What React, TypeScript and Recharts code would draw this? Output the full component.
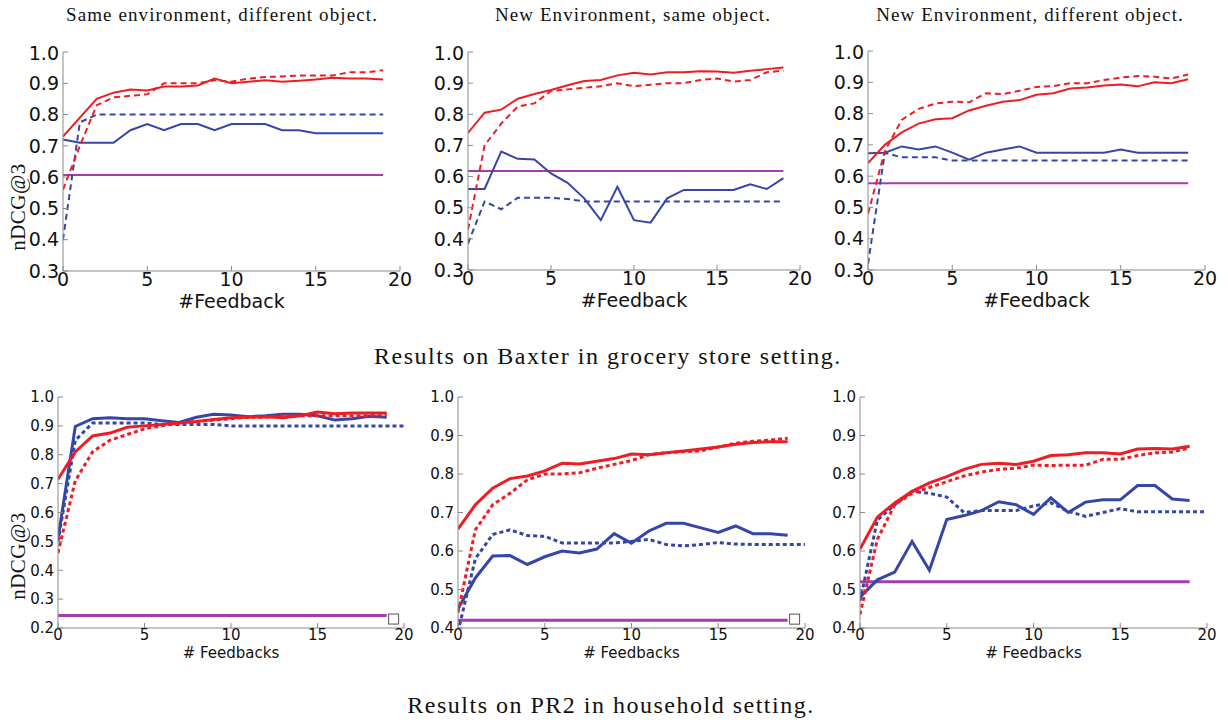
import React from 'react';
import { LineChart, Line, XAxis, YAxis, ReferenceLine, ReferenceDot } from 'recharts';

// x positions
const feedback = [0, 1, 2, 3, 4, 5, 6, 7, 8, 9, 10, 11, 12, 13, 14, 15, 16, 17, 18, 19];
const feedbackExt = [0, 1, 2, 3, 4, 5, 6, 7, 8, 9, 10, 11, 12, 13, 14, 15, 16, 17, 18, 19, 20];
const xTicks = [0, 5, 10, 15, 20];

// Baxter: same environment, different object
const b1RedSolid = [0.73, 0.79, 0.85, 0.87, 0.88, 0.877, 0.89, 0.89, 0.893, 0.915, 0.9, 0.905, 0.91, 0.905, 0.908, 0.912, 0.918, 0.915, 0.915, 0.912];
const b1RedDash = [0.56, 0.7, 0.83, 0.855, 0.86, 0.865, 0.9, 0.9, 0.9, 0.91, 0.905, 0.915, 0.92, 0.922, 0.925, 0.925, 0.925, 0.935, 0.935, 0.942];
const b1BlueSolid = [0.72, 0.71, 0.71, 0.71, 0.75, 0.77, 0.75, 0.77, 0.77, 0.75, 0.77, 0.77, 0.77, 0.75, 0.75, 0.74, 0.74, 0.74, 0.74, 0.74];
const b1BlueDash = [0.4, 0.775, 0.8, 0.8, 0.8, 0.8, 0.8, 0.8, 0.8, 0.8, 0.8, 0.8, 0.8, 0.8, 0.8, 0.8, 0.8, 0.8, 0.8, 0.8];
const b1Baseline = 0.607;

// Baxter: new environment, same object
const b2RedSolid = [0.74, 0.805, 0.815, 0.85, 0.865, 0.878, 0.893, 0.907, 0.91, 0.925, 0.933, 0.928, 0.935, 0.935, 0.938, 0.937, 0.933, 0.94, 0.945, 0.95];
const b2RedDash = [0.43, 0.7, 0.77, 0.825, 0.835, 0.875, 0.88, 0.885, 0.89, 0.9, 0.89, 0.895, 0.9, 0.9, 0.91, 0.915, 0.905, 0.91, 0.935, 0.94];
const b2BlueSolid = [0.56, 0.56, 0.68, 0.657, 0.655, 0.61, 0.58, 0.53, 0.46, 0.567, 0.46, 0.452, 0.53, 0.557, 0.557, 0.557, 0.557, 0.575, 0.56, 0.595];
const b2BlueDash = [0.385, 0.52, 0.495, 0.532, 0.532, 0.532, 0.528, 0.52, 0.52, 0.52, 0.52, 0.52, 0.52, 0.52, 0.52, 0.52, 0.52, 0.52, 0.52, 0.52];
const b2Baseline = 0.618;

// Baxter: new environment, different object
const b3RedSolid = [0.642, 0.7, 0.74, 0.768, 0.782, 0.785, 0.81, 0.825, 0.838, 0.843, 0.86, 0.865, 0.88, 0.883, 0.89, 0.893, 0.887, 0.9, 0.897, 0.91];
const b3RedDash = [0.48, 0.68, 0.78, 0.815, 0.832, 0.838, 0.836, 0.865, 0.862, 0.873, 0.885, 0.888, 0.897, 0.897, 0.907, 0.915, 0.92, 0.918, 0.912, 0.925];
const b3BlueSolid = [0.673, 0.675, 0.695, 0.685, 0.695, 0.675, 0.653, 0.675, 0.685, 0.695, 0.675, 0.675, 0.675, 0.675, 0.675, 0.685, 0.675, 0.675, 0.675, 0.675];
const b3BlueDash = [0.32, 0.675, 0.66, 0.66, 0.66, 0.65, 0.65, 0.65, 0.65, 0.65, 0.65, 0.65, 0.65, 0.65, 0.65, 0.65, 0.65, 0.65, 0.65, 0.65];
const b3Baseline = 0.577;

// PR2 household, panel 1
const p1RedSolid = [0.715, 0.81, 0.865, 0.875, 0.895, 0.9, 0.905, 0.91, 0.915, 0.922, 0.928, 0.93, 0.932, 0.928, 0.935, 0.948, 0.942, 0.945, 0.945, 0.945];
const p1RedDash = [0.46, 0.71, 0.81, 0.85, 0.87, 0.89, 0.9, 0.91, 0.915, 0.92, 0.925, 0.93, 0.93, 0.935, 0.935, 0.935, 0.935, 0.935, 0.935, 0.94];
const p1BlueSolid = [0.51, 0.898, 0.925, 0.928, 0.925, 0.925, 0.918, 0.912, 0.93, 0.94, 0.938, 0.932, 0.935, 0.94, 0.94, 0.935, 0.92, 0.925, 0.933, 0.93];
const p1BlueDash = [0.5, 0.85, 0.91, 0.91, 0.91, 0.91, 0.905, 0.905, 0.905, 0.905, 0.9, 0.9, 0.9, 0.9, 0.9, 0.9, 0.9, 0.9, 0.9, 0.9, 0.9];
const p1Baseline = 0.243;
const p1Marker = [19.4, 0.231];

// PR2 household, panel 2
const p2RedSolid = [0.657, 0.72, 0.763, 0.788, 0.795, 0.808, 0.828, 0.826, 0.833, 0.84, 0.852, 0.85, 0.855, 0.86, 0.865, 0.87, 0.877, 0.882, 0.884, 0.884];
const p2RedDash = [0.44, 0.655, 0.72, 0.75, 0.785, 0.8, 0.8, 0.803, 0.815, 0.825, 0.835, 0.85, 0.855, 0.858, 0.86, 0.87, 0.88, 0.885, 0.888, 0.893];
const p2BlueSolid = [0.45, 0.53, 0.587, 0.588, 0.565, 0.585, 0.6, 0.595, 0.605, 0.645, 0.62, 0.652, 0.672, 0.672, 0.66, 0.648, 0.665, 0.645, 0.645, 0.641];
const p2BlueDash = [0.39, 0.58, 0.643, 0.655, 0.64, 0.638, 0.621, 0.621, 0.621, 0.621, 0.625, 0.63, 0.617, 0.613, 0.617, 0.622, 0.618, 0.617, 0.617, 0.617, 0.617];
const p2Baseline = 0.42;
const p2Marker = [19.4, 0.423];

// PR2 household, panel 3
const p3RedSolid = [0.605, 0.688, 0.725, 0.755, 0.777, 0.793, 0.812, 0.825, 0.828, 0.825, 0.833, 0.848, 0.85, 0.855, 0.855, 0.852, 0.865, 0.866, 0.865, 0.872];
const p3RedDash = [0.435, 0.63, 0.72, 0.75, 0.765, 0.78, 0.795, 0.805, 0.812, 0.815, 0.823, 0.822, 0.823, 0.823, 0.838, 0.838, 0.848, 0.855, 0.857, 0.868];
const p3BlueSolid = [0.48, 0.525, 0.545, 0.625, 0.55, 0.682, 0.692, 0.705, 0.728, 0.72, 0.695, 0.738, 0.7, 0.727, 0.733, 0.733, 0.77, 0.77, 0.735, 0.731];
const p3BlueDash = [0.47, 0.68, 0.72, 0.755, 0.75, 0.74, 0.7, 0.705, 0.705, 0.705, 0.717, 0.725, 0.703, 0.69, 0.7, 0.71, 0.702, 0.702, 0.702, 0.702, 0.702];
const p3Baseline = 0.52;

const topTicks = [0.3, 0.4, 0.5, 0.6, 0.7, 0.8, 0.9, 1.0];
const pr2Ticks1 = [0.2, 0.3, 0.4, 0.5, 0.6, 0.7, 0.8, 0.9, 1.0];
const pr2Ticks2 = [0.4, 0.5, 0.6, 0.7, 0.8, 0.9, 1.0];

const RED = '#ee1d23';
const BLUE = '#3546a8';
const PURPLE = '#a43cb0';
const FRAME = '#8a8a8a';
const SERIF = '"Liberation Serif", "DejaVu Serif", serif';
const SANS = '"DejaVu Sans", sans-serif';

const pts = (xs: number[], ys: number[]) => xs.map((x, i) => ({ x, y: ys[i] }));

type Series = { xs: number[]; ys: number[]; color: string; dashed: boolean };

interface PanelProps {
  box: { l: number; t: number; r: number; b: number };
  yDomain: [number, number];
  yTicks: number[];
  series: Series[];
  baseline: number;
  xLabel: string;
  big: boolean;
  marker?: number[];
}

function Panel({ box, yDomain, yTicks, series, baseline, xLabel, big, marker }: PanelProps) {
  const padL = 60;
  const padT = 10;
  const padR = 20;
  const axisH = 50;
  const w = box.r - box.l + padL + padR;
  const h = box.b - box.t + padT + axisH;
  const fs = big ? 19 : 15;
  const lw = big ? 2 : 3;
  const dash = big ? '6 4' : '4 3';
  const tickStyle = { fontSize: fs, fontFamily: SANS, fill: '#111' };
  return (
    <div style={{ position: 'absolute', left: box.l - padL, top: box.t - padT }}>
      <LineChart width={w} height={h} margin={{ top: padT, right: padR, left: 0, bottom: 0 }}>
        <XAxis
          xAxisId={0}
          type="number"
          dataKey="x"
          domain={[0, 20]}
          ticks={xTicks}
          allowDataOverflow
          height={axisH}
          stroke={FRAME}
          tickSize={-5}
          tickMargin={big ? 7 : 6}
          tick={tickStyle}
          label={{ value: xLabel, position: 'insideBottom', offset: big ? 13 : 20, style: { fontSize: big ? 19 : 15, fontFamily: SANS, fill: '#111' } }}
        />
        <XAxis xAxisId="top" orientation="top" type="number" domain={[0, 20]} ticks={xTicks} height={0} stroke={FRAME} tickSize={-5} tick={false} />
        <YAxis
          yAxisId={0}
          type="number"
          domain={yDomain}
          ticks={yTicks}
          allowDataOverflow
          width={padL}
          stroke={FRAME}
          tickSize={-5}
          tickMargin={9}
          tick={tickStyle}
          tickFormatter={(v: number) => v.toFixed(1)}
        />
        <YAxis yAxisId="right" orientation="right" type="number" domain={yDomain} ticks={yTicks} width={0} stroke={FRAME} tickSize={-5} tick={false} />
        <ReferenceLine
          xAxisId={0}
          yAxisId={0}
          segment={[{ x: 0, y: baseline }, { x: 19, y: baseline }]}
          stroke={PURPLE}
          strokeWidth={lw}
        />
        {series.map((s, i) => (
          <Line
            key={i}
            xAxisId={0}
            yAxisId={0}
            data={pts(s.xs, s.ys)}
            dataKey="y"
            type="linear"
            stroke={s.color}
            strokeWidth={lw}
            strokeDasharray={s.dashed ? dash : undefined}
            dot={false}
            isAnimationActive={false}
          />
        ))}
        {marker && (
          <ReferenceDot
            xAxisId={0}
            yAxisId={0}
            x={marker[0]}
            y={marker[1]}
            ifOverflow="visible"
            shape={(p: any) => (
              <rect x={p.cx - 5} y={p.cy - 5} width={10} height={10} fill="#fff" stroke="#555" strokeWidth={1} />
            )}
          />
        )}
      </LineChart>
    </div>
  );
}

const titleStyle = (cx: number, cy: number, size: number, spacing: number): React.CSSProperties => ({
  position: 'absolute',
  left: cx - 300,
  top: cy - size * 0.6,
  width: 600,
  textAlign: 'center',
  fontFamily: SERIF,
  fontSize: size,
  letterSpacing: spacing,
  lineHeight: `${size * 1.2}px`,
  color: '#111',
  whiteSpace: 'nowrap',
});

const yLabelStyle = (cx: number, cy: number): React.CSSProperties => ({
  position: 'absolute',
  left: cx - 60,
  top: cy - 12,
  width: 120,
  height: 24,
  lineHeight: '24px',
  textAlign: 'center',
  fontFamily: SERIF,
  fontSize: 21,
  letterSpacing: 0.5,
  color: '#111',
  transform: 'rotate(-90deg)',
});

export default function App() {
  return (
    <div style={{ position: 'absolute', left: 0, top: 0, width: 1228, height: 722, background: '#fff', overflow: 'hidden' }}>
      <div style={titleStyle(222, 15, 19, 1.1)}>Same environment, different object.</div>
      <div style={titleStyle(633, 15, 19, 1.1)}>New Environment, same object.</div>
      <div style={titleStyle(1030, 15, 19, 1.1)}>New Environment, different object.</div>
      <div style={yLabelStyle(18, 207)}>nDCG@3</div>

      <Panel
        box={{ l: 63, t: 52, r: 400, b: 271 }}
        yDomain={[0.3, 1.0]}
        yTicks={topTicks}
        baseline={b1Baseline}
        xLabel="#Feedback"
        big
        series={[
          { xs: feedback, ys: b1BlueDash, color: BLUE, dashed: true },
          { xs: feedback, ys: b1BlueSolid, color: BLUE, dashed: false },
          { xs: feedback, ys: b1RedDash, color: RED, dashed: true },
          { xs: feedback, ys: b1RedSolid, color: RED, dashed: false },
        ]}
      />
      <Panel
        box={{ l: 468, t: 52, r: 800, b: 270 }}
        yDomain={[0.3, 1.0]}
        yTicks={topTicks}
        baseline={b2Baseline}
        xLabel="#Feedback"
        big
        series={[
          { xs: feedback, ys: b2BlueDash, color: BLUE, dashed: true },
          { xs: feedback, ys: b2BlueSolid, color: BLUE, dashed: false },
          { xs: feedback, ys: b2RedDash, color: RED, dashed: true },
          { xs: feedback, ys: b2RedSolid, color: RED, dashed: false },
        ]}
      />
      <Panel
        box={{ l: 868, t: 51, r: 1205, b: 270 }}
        yDomain={[0.3, 1.0]}
        yTicks={topTicks}
        baseline={b3Baseline}
        xLabel="#Feedback"
        big
        series={[
          { xs: feedback, ys: b3BlueDash, color: BLUE, dashed: true },
          { xs: feedback, ys: b3BlueSolid, color: BLUE, dashed: false },
          { xs: feedback, ys: b3RedDash, color: RED, dashed: true },
          { xs: feedback, ys: b3RedSolid, color: RED, dashed: false },
        ]}
      />

      <div style={titleStyle(608, 356, 24, 1.5)}>Results on Baxter in grocery store setting.</div>

      <div style={yLabelStyle(18, 556)}>nDCG@3</div>
      <Panel
        box={{ l: 58, t: 397, r: 404, b: 628 }}
        yDomain={[0.2, 1.0]}
        yTicks={pr2Ticks1}
        baseline={p1Baseline}
        xLabel="# Feedbacks"
        big={false}
        marker={p1Marker}
        series={[
          { xs: feedbackExt, ys: p1BlueDash, color: BLUE, dashed: true },
          { xs: feedback, ys: p1BlueSolid, color: BLUE, dashed: false },
          { xs: feedback, ys: p1RedDash, color: RED, dashed: true },
          { xs: feedback, ys: p1RedSolid, color: RED, dashed: false },
        ]}
      />
      <Panel
        box={{ l: 458, t: 397, r: 805, b: 628 }}
        yDomain={[0.4, 1.0]}
        yTicks={pr2Ticks2}
        baseline={p2Baseline}
        xLabel="# Feedbacks"
        big={false}
        marker={p2Marker}
        series={[
          { xs: feedbackExt, ys: p2BlueDash, color: BLUE, dashed: true },
          { xs: feedback, ys: p2BlueSolid, color: BLUE, dashed: false },
          { xs: feedback, ys: p2RedDash, color: RED, dashed: true },
          { xs: feedback, ys: p2RedSolid, color: RED, dashed: false },
        ]}
      />
      <Panel
        box={{ l: 860, t: 397, r: 1207, b: 628 }}
        yDomain={[0.4, 1.0]}
        yTicks={pr2Ticks2}
        baseline={p3Baseline}
        xLabel="# Feedbacks"
        big={false}
        series={[
          { xs: feedbackExt, ys: p3BlueDash, color: BLUE, dashed: true },
          { xs: feedback, ys: p3BlueSolid, color: BLUE, dashed: false },
          { xs: feedback, ys: p3RedDash, color: RED, dashed: true },
          { xs: feedback, ys: p3RedSolid, color: RED, dashed: false },
        ]}
      />

      <div style={titleStyle(611, 705, 24, 1.5)}>Results on PR2 in household setting.</div>
    </div>
  );
}
